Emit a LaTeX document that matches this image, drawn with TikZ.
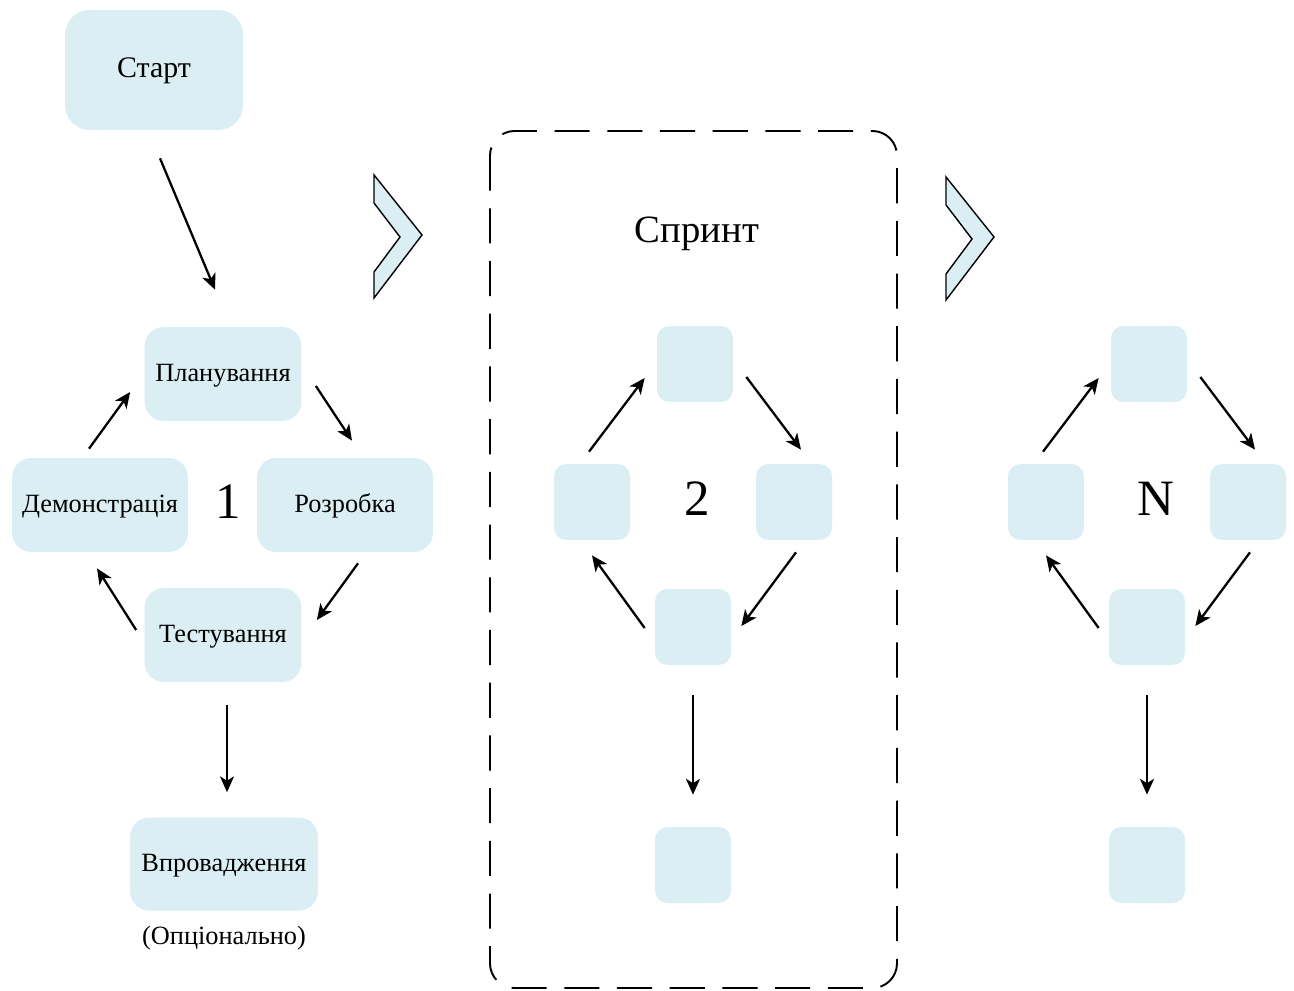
\documentclass[tikz,border=0pt]{standalone}
\usepackage{fontspec}
\setmainfont{Liberation Serif}
\usepackage{tikz}
\usetikzlibrary{arrows.meta}
\definecolor{stagefill}{RGB}{218,238,243}
\tikzset{
  stage/.style={rounded corners=11pt, minimum width=#1, minimum height=1.88cm,
                inner sep=0pt, fill=stagefill, font=\fontsize{15}{18}\selectfont,
                text height=0.8em, text depth=0pt, align=center},
  stage/.default=3.14cm,
  blank/.style={rounded corners=7pt, minimum width=1.52cm, minimum height=1.52cm,
                inner sep=0pt, fill=stagefill},
  arrow/.style={-{Stealth[length=9pt, width=8pt, inset=2.5pt]}, line width=1.3pt,
                draw=black},
  chevron/.style={draw=black, fill=stagefill, line width=0.8pt, line join=miter},
  sprintbox/.style={draw=black, line width=1.1pt, rounded corners=14pt,
                    dash pattern=on 20pt off 10pt},
  cyclenum/.style={font=\fontsize{29}{34}\selectfont},
}
\begin{document}
\begin{tikzpicture}[x=0.02cm, y=-0.02cm]
  \useasboundingbox (0,0) rectangle (1294,990);

  % first iteration
  \node[stage, minimum width=3.56cm, minimum height=2.4cm, rounded corners=14pt,
        font=\fontsize{17}{20}\selectfont] (start) at (154,70) {Старт};
  \node[stage] (plan) at (223,374) {Планування};
  \node[stage=3.52cm] (demo) at (100,505) {Демонстрація};
  \node[stage=3.52cm] (dev) at (345,505) {Розробка};
  \node[stage] (test) at (223,635) {Тестування};
  \node[stage=3.76cm, minimum height=1.86cm] (deploy) at (224,864) {Впровадження};
  \node[font=\fontsize{15}{18}\selectfont] (optional) at (224,938) {(Опціонально)};
  \node[cyclenum] (one) at (228,502) {1};

  \draw[arrow] ([shift={(6,28)}]start.south) -- ([shift={(-8,-37)}]plan.north);
  \draw[arrow] ([shift={(14,12)}]plan.east) -- ([shift={(7,-17)}]dev.north);
  \draw[arrow] ([shift={(13,11)}]dev.south) -- ([shift={(15,-15)}]test.east);
  \draw[arrow] ([shift={(-8,-5)}]test.west) -- ([shift={(-3,16)}]demo.south);
  \draw[arrow] ([shift={(-11,-9)}]demo.north) -- ([shift={(-14,18)}]plan.west);
  \draw[arrow] ([shift={(4,23)}]test.south) -- ([shift={(3,-25)}]deploy.north);

  % chevrons between iterations
  \draw[chevron] (374,175) -- (422,235) -- (374,298) -- (374,272) -- (400,237)
    -- (374,203) -- cycle;
  \draw[chevron] (946,177) -- (994,237) -- (946,300) -- (946,274) -- (972,239)
    -- (946,205) -- cycle;

  % second iteration (sprint)
  \draw[sprintbox] (490,131) rectangle (897,988);
  \node[font=\fontsize{22}{26}\selectfont] (sprint) at (697,234) {Спринт};
  \node[blank] (twotop) at (695,364) {};
  \node[blank] (twoleft) at (592,502) {};
  \node[blank] (tworight) at (794,502) {};
  \node[blank] (twobot) at (693,627) {};
  \node[blank] (twoout) at (693,865) {};
  \node[cyclenum] (two) at (697,499) {2};

  \draw[arrow] ([shift={(-3,-12)}]twoleft.north) -- ([shift={(-12,14)}]twotop.west);
  \draw[arrow] ([shift={(13,13)}]twotop.east) -- ([shift={(7,-14)}]tworight.north);
  \draw[arrow] ([shift={(2,12)}]tworight.south) -- ([shift={(10,-1)}]twobot.east);
  \draw[arrow] ([shift={(-10,1)}]twobot.west) -- ([shift={(0,15)}]twoleft.south);
  \draw[arrow] ([shift={(0,30)}]twobot.south) -- ([shift={(0,-32)}]twoout.north);

  % last iteration
  \node[blank] (ntop) at (1149,364) {};
  \node[blank] (nleft) at (1046,502) {};
  \node[blank] (nright) at (1248,502) {};
  \node[blank] (nbot) at (1147,627) {};
  \node[blank] (nout) at (1147,865) {};
  \node[cyclenum] (enn) at (1156,499) {N};

  \draw[arrow] ([shift={(-3,-12)}]nleft.north) -- ([shift={(-12,14)}]ntop.west);
  \draw[arrow] ([shift={(13,13)}]ntop.east) -- ([shift={(7,-14)}]nright.north);
  \draw[arrow] ([shift={(2,12)}]nright.south) -- ([shift={(10,-1)}]nbot.east);
  \draw[arrow] ([shift={(-10,1)}]nbot.west) -- ([shift={(0,15)}]nleft.south);
  \draw[arrow] ([shift={(0,30)}]nbot.south) -- ([shift={(0,-32)}]nout.north);
\end{tikzpicture}
\end{document}
